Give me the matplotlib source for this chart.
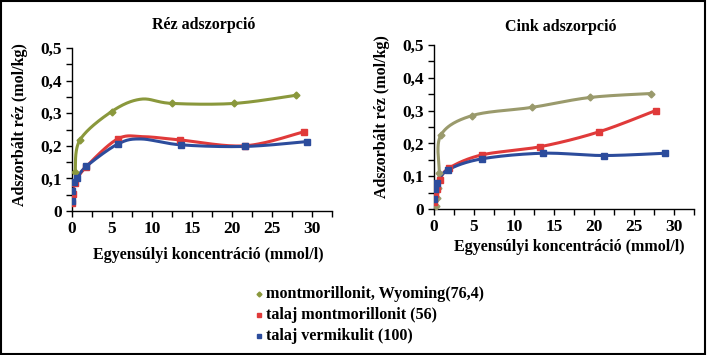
"""
Réz és cink adszorpciós izotermák — két panel, közös jelmagyarázat.
"""
import numpy as np
import matplotlib
matplotlib.use("Agg")
import matplotlib.pyplot as plt
from matplotlib.lines import Line2D
from matplotlib.patches import Rectangle
from matplotlib.ticker import FuncFormatter, MultipleLocator

plt.rcParams['font.family'] = ['Liberation Serif', 'DejaVu Serif']
plt.rcParams['font.weight'] = 'bold'

# ── Adatok (leolvasva) ───────────────────────────────────────────────────────
series_names = ["montmorillonit, Wyoming(76,4)",
                "talaj montmorillonit (56)",
                "talaj vermikulit (100)"]

# Réz
cu_wyo_x = [0.4, 1.0, 4.95, 8.6, 12.5, 20.3, 28.0]
cu_wyo_y = [0.12, 0.218, 0.305, 0.343, 0.330, 0.330, 0.355]
cu_wyo_mark = [0, 1, 2, 4, 5, 6]
cu_mont_x = [0.0, 0.1, 0.4, 1.75, 5.7, 8.9, 13.5, 21.6, 29.0]
cu_mont_y = [0.025, 0.052, 0.086, 0.135, 0.221, 0.228, 0.218, 0.200, 0.243]
cu_mont_mark = [0, 1, 2, 3, 4, 6, 7, 8]
cu_verm_x = [0.0, 0.05, 0.2, 0.6, 1.8, 5.7, 8.6, 13.6, 21.6, 29.4]
cu_verm_y = [0.03, 0.062, 0.09, 0.10, 0.137, 0.205, 0.221, 0.203, 0.198, 0.213]
cu_verm_mark = [0, 1, 2, 3, 4, 5, 7, 8, 9]

# Cink
zn_wyo_x = [0.25, 0.4, 0.55, 0.65, 0.85, 4.8, 12.3, 19.5, 27.1]
zn_wyo_y = [0.01, 0.035, 0.065, 0.11, 0.225, 0.285, 0.31, 0.34, 0.352]
zn_mont_x = [0.05, 0.15, 0.4, 0.7, 1.9, 6.0, 13.3, 20.6, 27.7]
zn_mont_y = [0.022, 0.045, 0.06, 0.088, 0.125, 0.165, 0.19, 0.235, 0.30]
zn_verm_x = [0.05, 0.15, 0.35, 1.8, 6.0, 13.6, 21.2, 28.9]
zn_verm_y = [0.03, 0.06, 0.08, 0.12, 0.153, 0.17, 0.163, 0.17]

c_green_l = '#8a983c'
c_green_r = '#9a9a6c'
c_red = '#e03a3a'
c_blue = '#2c4c9c'


def smooth(x, y, n=30):
    """Catmull-Rom (uniform) — hasonló az Excel 'simított vonal'-hoz."""
    p = np.column_stack([x, y]).astype(float)
    p = np.vstack([p[0], p, p[-1]])
    out = []
    t = np.linspace(0, 1, n)
    for i in range(1, len(p) - 2):
        p0, p1, p2, p3 = p[i - 1], p[i], p[i + 1], p[i + 2]
        m1 = (p2 - p0) / 2; m2 = (p3 - p1) / 2
        h00 = 2*t**3 - 3*t**2 + 1; h10 = t**3 - 2*t**2 + t
        h01 = -2*t**3 + 3*t**2; h11 = t**3 - t**2
        seg = (np.outer(h00, p1) + np.outer(h10, m1)
               + np.outer(h01, p2) + np.outer(h11, m2))
        out.append(seg)
    s = np.vstack(out)
    return s[:, 0], s[:, 1]


def draw(ax, x, y, color, marker, ms, mark=None):
    sx, sy = smooth(x, y)
    ax.plot(sx, sy, '-', color=color, lw=2.2, zorder=2)
    idx = range(len(x)) if mark is None else mark
    ax.plot([x[i] for i in idx], [y[i] for i in idx], marker, color=color,
            ms=ms, ls='none', zorder=3)


fmt_y = FuncFormatter(lambda v, _: '0' if abs(v) < 1e-9 else f'{v:.1f}'.replace('.', ','))


def style(ax):
    ax.set_xlim(0, 32.5); ax.set_ylim(0, 0.5)
    ax.xaxis.set_major_locator(MultipleLocator(5))
    ax.xaxis.set_minor_locator(MultipleLocator(2.5))
    ax.yaxis.set_major_locator(MultipleLocator(0.1))
    ax.yaxis.set_minor_locator(MultipleLocator(0.05))
    ax.yaxis.set_major_formatter(fmt_y)
    for s in ('top', 'right'):
        ax.spines[s].set_visible(False)
    for s in ('left', 'bottom'):
        ax.spines[s].set_linewidth(1.0)
    ax.tick_params(which='both', direction='out', length=4, width=1,
                   labelsize=12.5, pad=3)
    ax.patch.set_alpha(0)


fig = plt.figure(figsize=(7.07, 3.55), dpi=100)

ax1 = fig.add_axes([0.1018, 0.4056, 0.3678, 0.4592])
draw(ax1, cu_wyo_x, cu_wyo_y, c_green_l, 'D', 3.5, cu_wyo_mark)
draw(ax1, cu_mont_x, cu_mont_y, c_red, 's', 4, cu_mont_mark)
draw(ax1, cu_verm_x, cu_verm_y, c_blue, 's', 4, cu_verm_mark)
style(ax1)

ax2 = fig.add_axes([0.6139, 0.4113, 0.3677, 0.4620])
draw(ax2, zn_wyo_x, zn_wyo_y, c_green_r, 'D', 3.5)
draw(ax2, zn_mont_x, zn_mont_y, c_red, 's', 4)
draw(ax2, zn_verm_x, zn_verm_y, c_blue, 's', 4)
style(ax2)

W, H = 707, 355
def ft(x, y, s, **kw):
    fig.text(x / W, 1 - y / H, s, ha='center', va='center', **kw)

ft(204, 25, "Réz adszorpció", fontsize=11.5)
ft(561, 27, "Cink adszorpció", fontsize=11.5)
ft(208, 255, "Egyensúlyi koncentráció (mmol/l)", fontsize=11.5)
ft(569, 247, "Egyensúlyi koncentráció (mmol/l)", fontsize=11.5)
ft(20, 125, "Adszorbált réz (mol/kg)", fontsize=11.5, rotation=90)
ft(382, 117, "Adszorbált réz (mol/kg)", fontsize=11.5, rotation=90)

# Jelmagyarázat
leg = [(c_green_l, 'D', 2.5), (c_red, 's', 3), (c_blue, 's', 3)]
for k, (name, (c, m, ms)) in enumerate(zip(series_names, leg)):
    yy = 1 - (294 + 21 * k) / H
    fig.add_artist(Line2D([259 / W], [yy], transform=fig.transFigure,
                          marker=m, color=c, ms=ms, ls='none'))
    fig.text(266 / W, yy, name, ha='left', va='center', fontsize=11.6)

fig.add_artist(Rectangle((0.001, 0.002), 0.996, 0.995, transform=fig.transFigure,
                         fill=False, ec='black', lw=1.5))

plt.savefig("out.png", dpi=100)
